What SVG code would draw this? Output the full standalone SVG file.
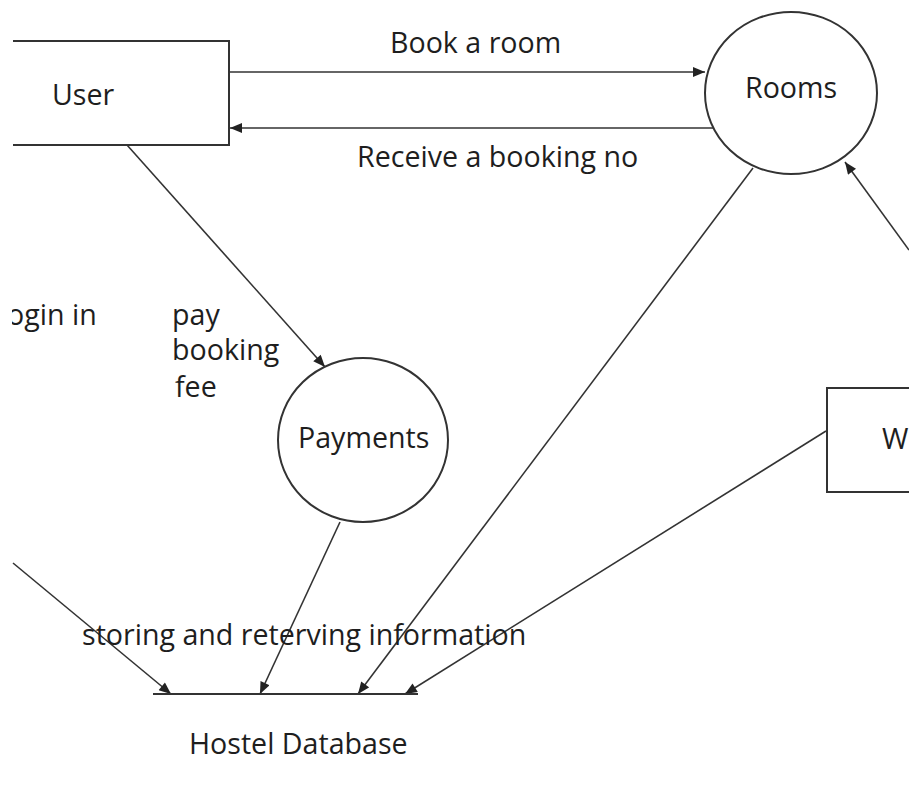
<svg xmlns="http://www.w3.org/2000/svg" width="909" height="797" viewBox="0 0 909 797">
<style>
.lbl{font-family:"Open Sans","Noto Sans","Liberation Sans",sans-serif;font-size:28.6px;fill:#1e1e1e}
.shape{fill:none;stroke:#333;stroke-width:2}
.flow{fill:none;stroke:#333;stroke-width:1.6;marker-end:url(#ah)}
.plain{fill:none;stroke:#333;stroke-width:1.8}
</style>
<defs>
<marker id="ah" viewBox="0 0 12 10" refX="12" refY="5" markerWidth="13" markerHeight="10" markerUnits="userSpaceOnUse" orient="auto">
<path d="M0,0 L12,5 L0,10 Z" fill="#222"/>
</marker>
<clipPath id="leftclip"><rect x="12" y="0" width="897" height="797"/></clipPath>
</defs>
<rect width="909" height="797" fill="#fff"/>
<g id="connectors">
<line class="flow" x1="229" y1="72" x2="705" y2="72"/>
<line class="flow" x1="713" y1="128" x2="230" y2="128"/>
<line class="flow" x1="127" y1="145" x2="325" y2="367"/>
<line class="flow" x1="13" y1="563" x2="171" y2="694"/>
<line class="flow" x1="340" y1="522" x2="260" y2="694"/>
<line class="flow" x1="753" y1="168" x2="358" y2="694"/>
<line class="flow" x1="826" y1="431" x2="405" y2="694"/>
<line class="flow" x1="909" y1="250" x2="845" y2="162"/>
</g>
<g id="user">
<path class="shape" d="M13,41 H229 V145 H13"/>
<text class="lbl" x="52" y="105">User</text>
</g>
<g id="rooms">
<ellipse class="shape" cx="791" cy="93" rx="86" ry="81"/>
<text class="lbl" x="745" y="98">Rooms</text>
</g>
<g id="payments">
<ellipse class="shape" cx="363" cy="440" rx="85" ry="82"/>
<text class="lbl" x="298" y="448">Payments</text>
</g>
<g id="w">
<path class="shape" d="M909,388 H827 V492 H909"/>
<text class="lbl" x="882" y="449">W</text>
</g>
<g id="hostel-database">
<line class="plain" x1="153" y1="694" x2="418" y2="694"/>
<text class="lbl" x="189" y="754">Hostel Database</text>
</g>
<g id="labels">
<text class="lbl" x="390" y="53">Book a room</text>
<text class="lbl" x="357" y="167">Receive a booking no</text>
<text class="lbl" x="7" y="325" clip-path="url(#leftclip)">ogin in</text>
<text class="lbl" x="172" y="325">pay<tspan x="172" dy="35">booking</tspan><tspan x="175" dy="37">fee</tspan></text>
<text class="lbl" x="82" y="645">storing and reterving information</text>
</g>
</svg>
